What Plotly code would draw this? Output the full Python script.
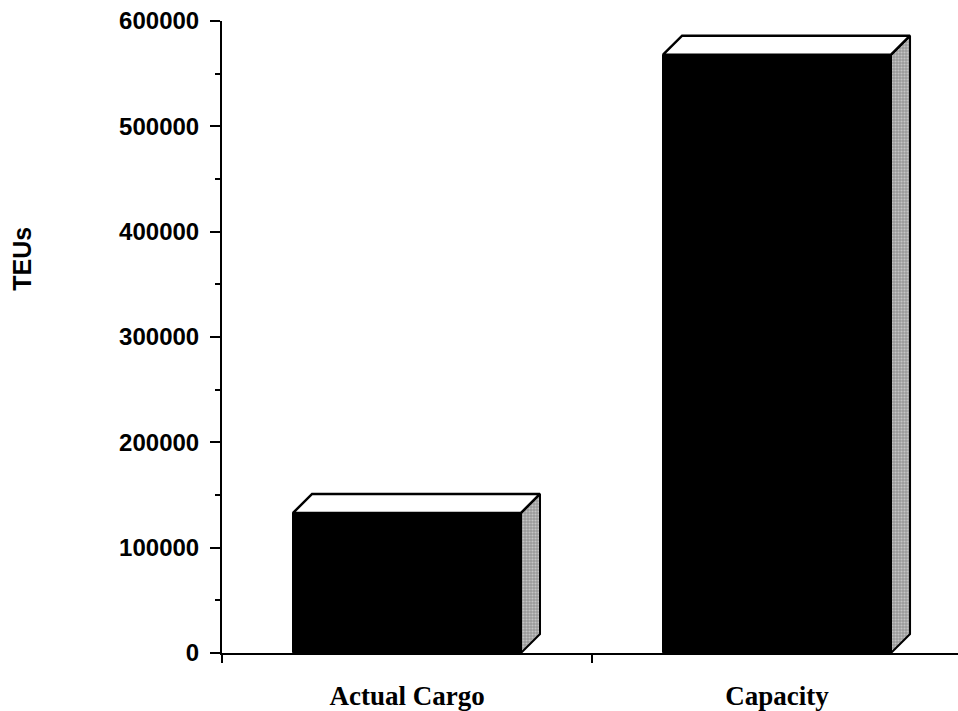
import plotly.graph_objects as go

# Data
categories = ["Actual Cargo", "Capacity"]
teus = [133000, 568000]
y_ticks = [0, 100000, 200000, 300000, 400000, 500000, 600000]

# 3-D look: bar width and depth offsets (in axis units)
bar_w = 0.616
depth_x = 0.0514
depth_y = 18050

fig = go.Figure()

xs = list(range(len(categories)))

# front faces
fig.add_trace(go.Bar(
    x=xs, y=teus, width=bar_w,
    marker=dict(color="black", line=dict(color="black", width=1)),
    hoverinfo="skip", showlegend=False,
))

for c, v in zip(xs, teus):
    x0, x1 = c - bar_w / 2, c + bar_w / 2
    # right side face
    fig.add_trace(go.Scatter(
        x=[x1, x1 + depth_x, x1 + depth_x, x1, x1],
        y=[0, depth_y, v + depth_y, v, 0],
        mode="lines", fill="toself",
        fillcolor="#a8a8a8",
        fillpattern=dict(shape=".", fgcolor="#f0f0f0", bgcolor="#9a9a9a",
                         size=3, solidity=0.4),
        line=dict(color="black", width=2),
        hoverinfo="skip", showlegend=False,
    ))
    # top face
    fig.add_trace(go.Scatter(
        x=[x0, x1, x1 + depth_x, x0 + depth_x, x0],
        y=[v, v, v + depth_y, v + depth_y, v],
        mode="lines", fill="toself", fillcolor="white",
        line=dict(color="black", width=2.5),
        hoverinfo="skip", showlegend=False,
    ))

fig.update_layout(
    width=958, height=711,
    margin=dict(l=222, r=0, t=21, b=58),
    paper_bgcolor="white", plot_bgcolor="white",
    bargap=0,
    xaxis=dict(
        range=[-0.5, 1.489],
        tickmode="array", tickvals=xs, ticktext=categories,
        ticks="", showgrid=False, zeroline=False,
        showline=True, linecolor="black", linewidth=2,
        tickfont=dict(family="Liberation Serif", size=27, color="black", weight="bold"),
        ticklabelstandoff=18,
        minor=dict(tickmode="array", tickvals=[-0.5, 0.5], ticks="outside",
                   ticklen=8, tickwidth=2, tickcolor="black", showgrid=False),
    ),
    yaxis=dict(
        range=[0, 600000],
        tickmode="array", tickvals=y_ticks,
        ticktext=[str(t) for t in y_ticks],
        ticks="outside", ticklen=10, tickwidth=2, tickcolor="black",
        showgrid=False, zeroline=False,
        showline=True, linecolor="black", linewidth=2,
        tickfont=dict(family="Liberation Sans", size=24, color="black", weight="bold"),
        ticklabelstandoff=6,
        minor=dict(tickmode="array",
                   tickvals=[50000, 150000, 250000, 350000, 450000, 550000],
                   ticks="outside", ticklen=5, tickwidth=2, tickcolor="black",
                   showgrid=False),
    ),
    annotations=[dict(
        text="<b>TEUs</b>", textangle=-90,
        xref="paper", yref="paper", x=-0.2717, y=0.624,
        xanchor="center", yanchor="middle",
        showarrow=False,
        font=dict(family="Liberation Sans", size=25, color="black"),
    )],
)

fig.write_html("out.html")
